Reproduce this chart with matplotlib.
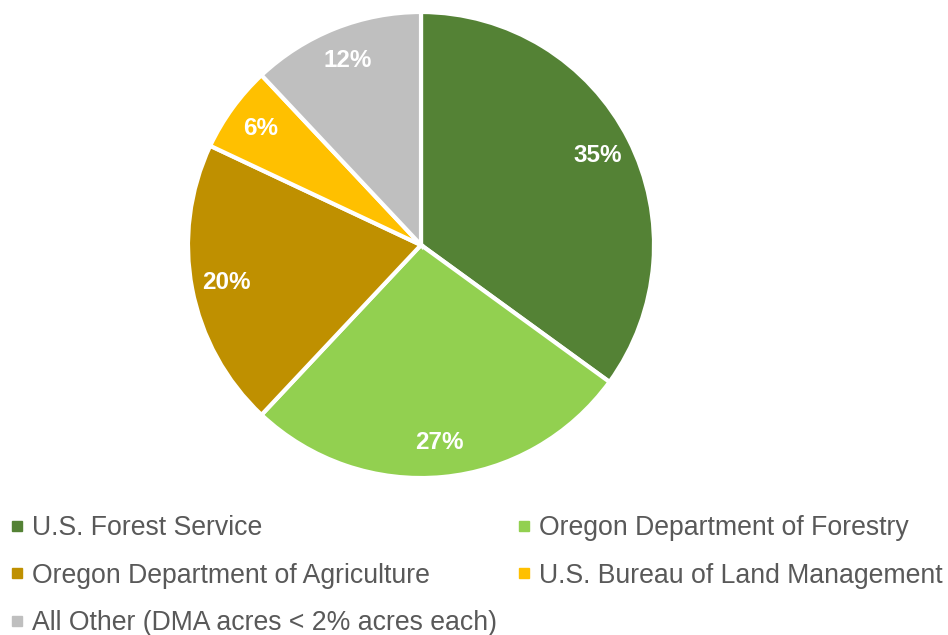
import matplotlib.pyplot as plt
from matplotlib.lines import Line2D

plt.rcParams['font.family'] = ['Liberation Sans', 'DejaVu Sans']

labels = ["U.S. Forest Service", "Oregon Department of Forestry",
          "Oregon Department of Agriculture", "U.S. Bureau of Land Management",
          "All Other (DMA acres < 2% acres each)"]
shares = [35, 27, 20, 6, 12]
colors = ["#548235", "#92D050", "#BF9000", "#FFC000", "#BFBFBF"]

fig = plt.figure(figsize=(9.48, 6.35), dpi=100)
ax = fig.add_axes([0.1983, 0.2472, 0.4916, 0.7339])

wedges, texts, autotexts = ax.pie(
    shares, colors=colors, startangle=90, counterclock=False,
    autopct="%1.0f%%", pctdistance=0.85,
    wedgeprops=dict(edgecolor="white", linewidth=3),
    textprops=dict(color="white", fontsize=17.5, fontweight="bold"))
ax.set_xlim(-1, 1)
ax.set_ylim(-1, 1)
ax.set_aspect("equal")

handles = [Line2D([], [], marker="s", linestyle="none", markersize=7,
                  color=c) for c in colors]
order = [0, 2, 4, 1, 3]
leg = fig.legend([handles[i] for i in order], [labels[i] for i in order],
                 ncol=2, loc="upper left", bbox_to_anchor=(0.004, 0.197),
                 frameon=False, fontsize=19.2, handlelength=0.6,
                 handletextpad=0.25, columnspacing=0.72, labelspacing=0.8,
                 borderaxespad=0, borderpad=0.2)
for t in leg.get_texts():
    t.set_color("#595959")

fig.savefig("out.png", dpi=100)
